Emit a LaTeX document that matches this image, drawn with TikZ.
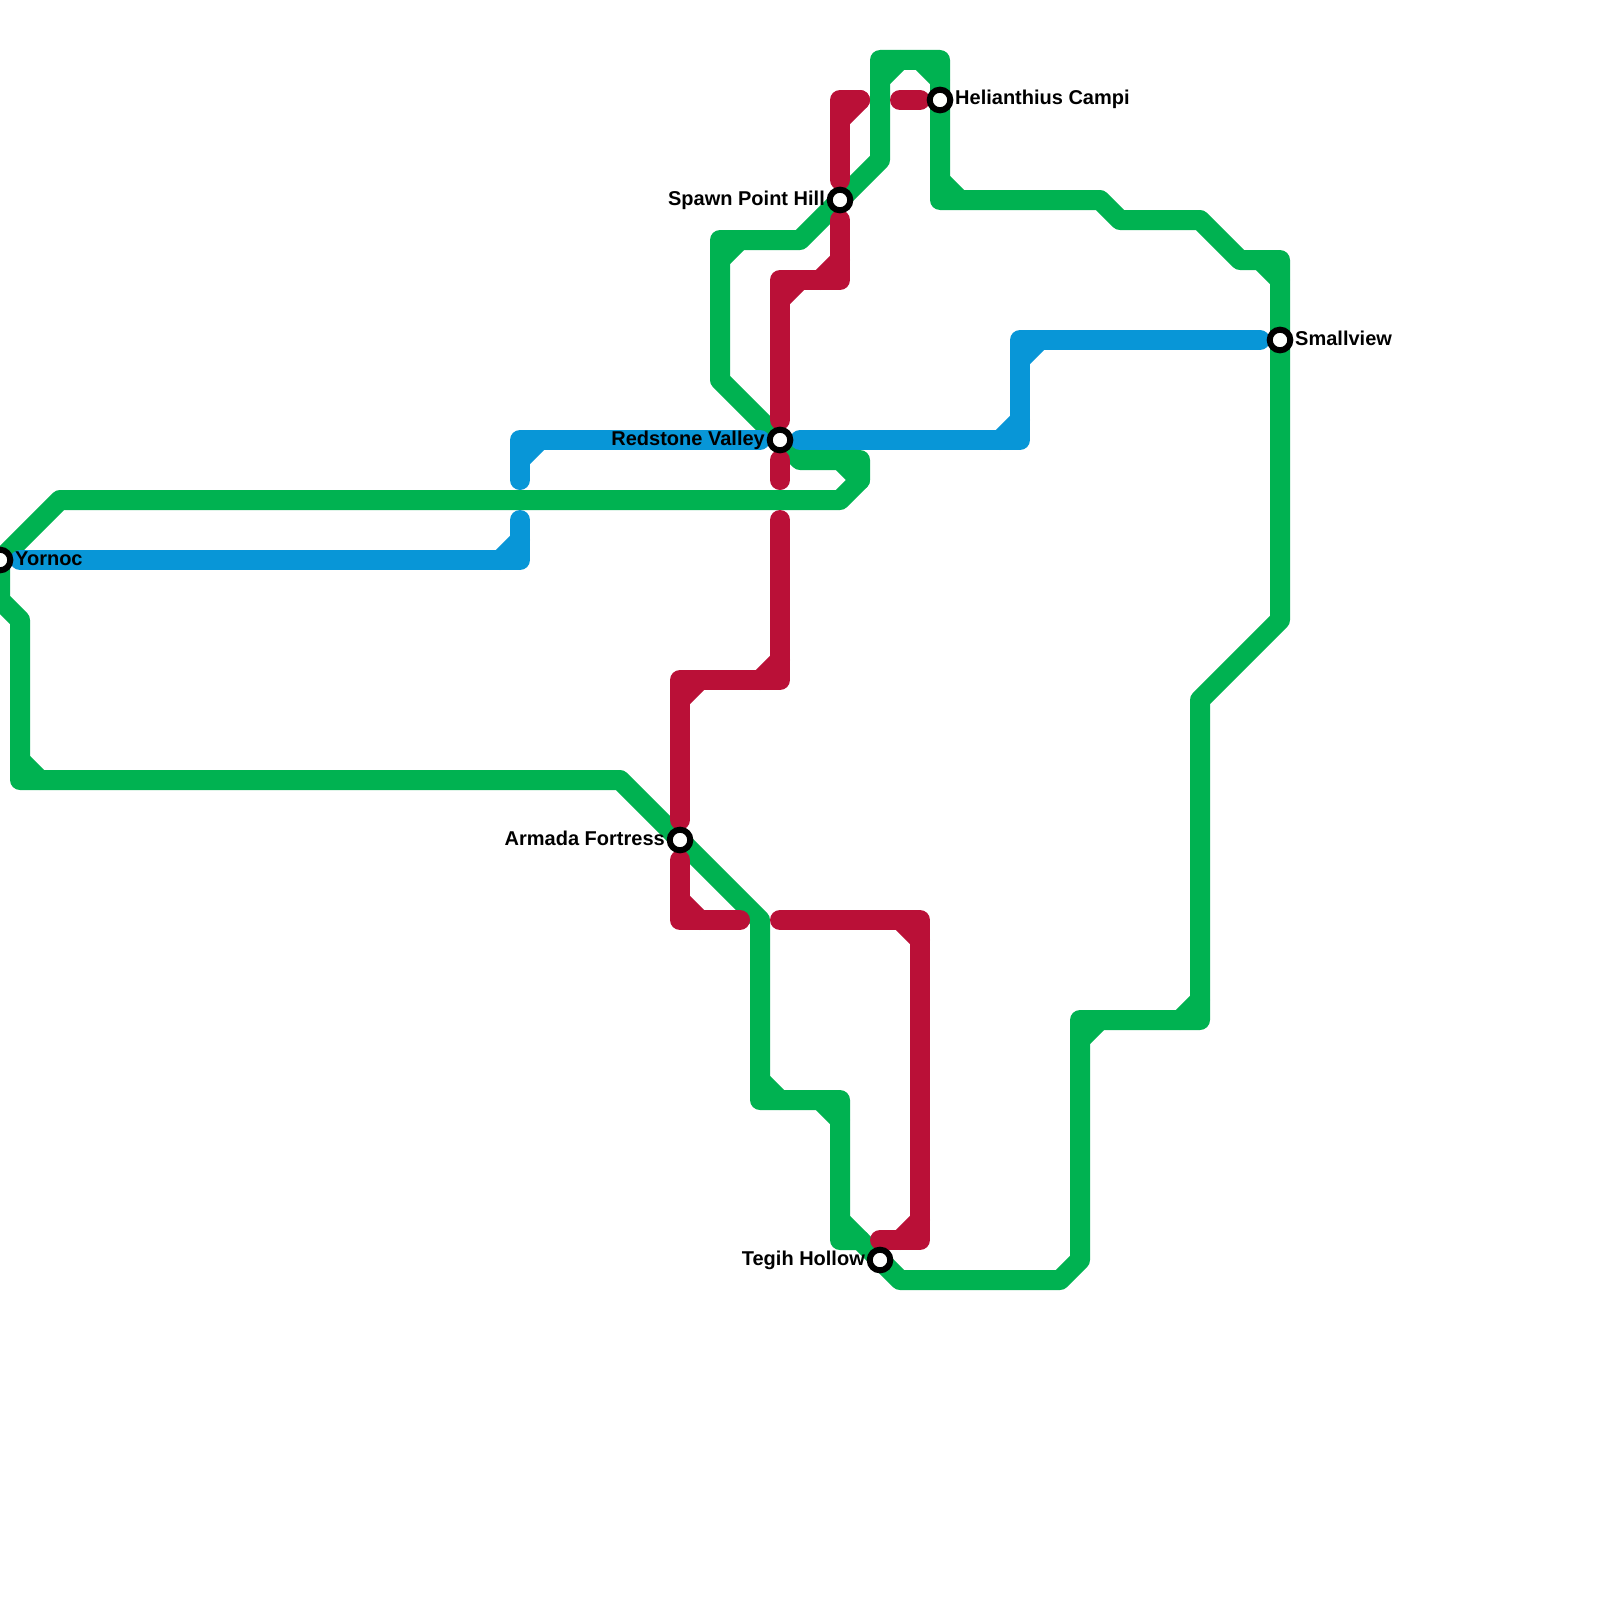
\documentclass[tikz,border=0pt]{standalone}
\usepackage{fontspec}
\setmainfont{Liberation Sans}
\usetikzlibrary{positioning, backgrounds}
\definecolor{linegreen}{HTML}{00B251}
\definecolor{lineblue}{HTML}{0896D7}
\definecolor{linered}{HTML}{BA1037}

\begin{document}
\begin{tikzpicture}[
  x=1pt, y=-1pt,
  font=\bfseries\fontsize{20}{24}\selectfont,
  route/.style={draw=#1, line width=20pt, line cap=round, line join=round},
  stn/.style={circle, draw=black, line width=6pt, fill=white,
              minimum size=20.6pt, inner sep=0pt},
  lbl/.style={text=black, inner sep=0pt, text height=14.4pt, text depth=4.4pt},
]
\useasboundingbox (0,0) rectangle (1600,1600);

% ================= STATIONS =================
\node[stn] (yornoc)      at (0,560)    {};
\node[stn] (helianthius) at (940,100)  {};
\node[stn] (spawn)       at (840,200)  {};
\node[stn] (smallview)   at (1280,340) {};
\node[stn] (redstone)    at (780,440)  {};
\node[stn] (armada)      at (680,840)  {};
\node[stn] (tegih)       at (880,1260) {};

\node[lbl, right=15pt of yornoc.center]      (yornoclbl)      {Yornoc};
\node[lbl, right=15pt of helianthius.center] (helianthiuslbl) {Helianthius Campi};
\node[lbl, left=15pt of spawn.center]        (spawnlbl)       {Spawn Point Hill};
\node[lbl, right=15pt of smallview.center]   (smallviewlbl)   {Smallview};
\node[lbl, left=15pt of redstone.center]     (redstonelbl)    {Redstone Valley};
\node[lbl, left=15pt of armada.center]       (armadalbl)      {Armada Fortress};
\node[lbl, left=15pt of tegih.center]        (tegihlbl)       {Tegih Hollow};

% ================= LINES =================
\begin{scope}[on background layer]
% green loop, then the corner chamfers
\draw[route=linegreen] (yornoc.center) -- (60,500) -- (840,500) -- (860,480) -- (860,460)
  -- (800,460) -- (redstone.center) -- (720,380) -- (720,240) -- (800,240)
  -- (spawn.center) -- (880,160) -- (880,60) -- (940,60) -- (helianthius.center)
  -- (940,200) -- (1100,200) -- (1120,220) -- (1200,220) -- (1240,260) -- (1280,260)
  -- (smallview.center) -- (1280,620) -- (1200,700) -- (1200,1020) -- (1080,1020)
  -- (1080,1260) -- (1060,1280) -- (900,1280) -- (tegih.center) -- (860,1240)
  -- (840,1240) -- (840,1100) -- (760,1100) -- (760,920) -- (armada.center)
  -- (620,780) -- (20,780) -- (20,620) -- (0,600) -- (yornoc.center);
\draw[route=linegreen] (840,460) -- (860,480);
\draw[route=linegreen] (720,260) -- (740,240);
\draw[route=linegreen] (880,80) -- (900,60);
\draw[route=linegreen] (920,60) -- (940,80);
\draw[route=linegreen] (940,180) -- (960,200);
\draw[route=linegreen] (1260,260) -- (1280,280);
\draw[route=linegreen] (1180,1020) -- (1200,1000);
\draw[route=linegreen] (1080,1040) -- (1100,1020);
\draw[route=linegreen] (860,1240) -- (840,1220);
\draw[route=linegreen] (820,1100) -- (840,1120);
\draw[route=linegreen] (760,1080) -- (780,1100);
\draw[route=linegreen] (20,760) -- (40,780);

% blue
\draw[route=lineblue] (20,560) -- (520,560) -- (520,520);
\draw[route=lineblue] (500,560) -- (520,540);
\draw[route=lineblue] (520,480) -- (520,440) -- (760,440);
\draw[route=lineblue] (520,460) -- (540,440);
\draw[route=lineblue] (800,440) -- (1020,440) -- (1020,340) -- (1260,340);
\draw[route=lineblue] (1000,440) -- (1020,420);
\draw[route=lineblue] (1020,360) -- (1040,340);

% red
\draw[route=linered] (840,180) -- (840,100) -- (860,100);
\draw[route=linered] (840,120) -- (860,100);
\draw[route=linered] (900,100) -- (920,100);
\draw[route=linered] (840,220) -- (840,280) -- (780,280) -- (780,420);
\draw[route=linered] (820,280) -- (840,260);
\draw[route=linered] (780,300) -- (800,280);
\draw[route=linered] (780,460) -- (780,480);
\draw[route=linered] (780,520) -- (780,680) -- (680,680) -- (680,820);
\draw[route=linered] (760,680) -- (780,660);
\draw[route=linered] (680,700) -- (700,680);
\draw[route=linered] (680,860) -- (680,920) -- (740,920);
\draw[route=linered] (680,900) -- (700,920);
\draw[route=linered] (780,920) -- (920,920) -- (920,1240) -- (880,1240);
\draw[route=linered] (900,920) -- (920,940);
\draw[route=linered] (900,1240) -- (920,1220);
\end{scope}

\end{tikzpicture}
\end{document}
